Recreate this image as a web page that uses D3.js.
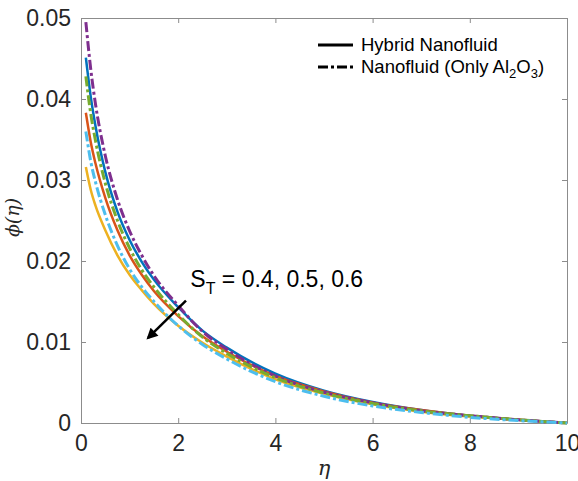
<!DOCTYPE html>
<html>
<head>
<meta charset="utf-8">
<script src="https://cdn.jsdelivr.net/npm/d3@7"></script>
<style>
  body { margin: 0; background: #fff; }
  svg { display: block; }
  .tick text { font-family: "Liberation Sans", Arial, sans-serif; font-size: 23px; fill: #262626; }
</style>
</head>
<body>
<div id="chart"></div>
<script>
// eta grid (x values)
let eta = [0.1, 0.2, 0.3, 0.5, 0.75, 1, 1.25, 1.5, 2, 2.5, 3, 4, 5, 6, 7, 8, 9, 10];

// hybrid nanofluid (solid), S_T = 0.4, 0.5, 0.6
let hybrid04 = [0.0451, 0.0403, 0.0366, 0.0310, 0.0261, 0.0226, 0.0199, 0.0177, 0.0143, 0.0114, 0.0093, 0.0061, 0.0040, 0.0026, 0.0016, 0.0009, 0.0004, 0];
let hybrid05 = [0.0383, 0.0347, 0.0320, 0.0278, 0.0238, 0.0207, 0.0183, 0.0163, 0.0132, 0.0107, 0.0088, 0.0058, 0.0039, 0.0025, 0.0016, 0.0009, 0.0004, 0];
let hybrid06 = [0.0316, 0.0288, 0.0268, 0.0238, 0.0207, 0.0183, 0.0164, 0.0147, 0.0120, 0.0099, 0.0082, 0.0054, 0.0036, 0.0023, 0.0014, 0.0008, 0.0004, 0];

// nanofluid, only Al2O3 (dash-dot), S_T = 0.4, 0.5, 0.6
let nano04 = [0.0495, 0.0437, 0.0393, 0.0330, 0.0276, 0.0237, 0.0207, 0.0182, 0.0145, 0.0113, 0.0091, 0.0058, 0.0038, 0.0025, 0.0015, 0.0009, 0.0004, 0];
let nano05 = [0.0428, 0.0382, 0.0348, 0.0296, 0.0250, 0.0216, 0.0189, 0.0168, 0.0134, 0.0106, 0.0086, 0.0056, 0.0037, 0.0024, 0.0015, 0.0009, 0.0004, 0];
let nano06 = [0.0360, 0.0323, 0.0297, 0.0257, 0.0219, 0.0190, 0.0168, 0.0150, 0.0120, 0.0097, 0.0079, 0.0051, 0.0033, 0.0021, 0.0013, 0.0007, 0.0003, 0];

let xTicks = [0, 2, 4, 6, 8, 10];
let yTicks = [0, 0.01, 0.02, 0.03, 0.04, 0.05];

let series = [
    {values: hybrid04, color: "#0072BD", dash: null},
    {values: hybrid05, color: "#D95319", dash: null},
    {values: hybrid06, color: "#EDB120", dash: null},
    {values: nano04, color: "#7E2F8E", dash: "10,3,3,3"},
    {values: nano05, color: "#77AC30", dash: "10,3,3,3"},
    {values: nano06, color: "#4DBEEE", dash: "10,3,3,3"}
];

let margin = {top: 18, right: 11, bottom: 58, left: 81};
let width = 578 - margin.left - margin.right;
let height = 481 - margin.top - margin.bottom;

let svg = d3.select('#chart')
    .append('svg')
    .attr("width", 578)
    .attr("height", 481)
    .append('g')
    .attr("transform", "translate(" + margin.left + "," + margin.top + ")");

let xScale = d3.scaleLinear().domain([0, 10]).range([0, width]);
let yScale = d3.scaleLinear().domain([0, 0.05]).range([height, 0]);

let axisColor = "#8c8c8c";

function styleAxis(g) {
    g.select('.domain').attr('stroke', axisColor).attr('stroke-width', 1);
    g.selectAll('.tick line').attr('stroke', axisColor);
}

// bottom / left with labels, ticks pointing inward
svg.append('g')
    .attr("transform", "translate(0," + height + ")")
    .call(d3.axisBottom(xScale).tickValues(xTicks).tickSizeInner(-5).tickSizeOuter(0).tickPadding(12).tickFormat(d3.format("d")))
    .call(styleAxis);

svg.append('g')
    .call(d3.axisLeft(yScale).tickValues(yTicks).tickSizeInner(-5).tickSizeOuter(0).tickPadding(10)
        .tickFormat(function (d) { return d === 0 ? "0" : d3.format(".2f")(d); }))
    .call(styleAxis);

// top / right box with ticks
svg.append('g')
    .call(d3.axisTop(xScale).tickValues(xTicks).tickSizeInner(-5).tickSizeOuter(0).tickFormat(""))
    .call(styleAxis);

svg.append('g')
    .attr("transform", "translate(" + width + ",0)")
    .call(d3.axisRight(yScale).tickValues(yTicks).tickSizeInner(-5).tickSizeOuter(0).tickFormat(""))
    .call(styleAxis);

let line = d3.line()
    .x(function (d, i) { return xScale(eta[i]); })
    .y(function (d) { return yScale(d); })
    .curve(d3.curveMonotoneX);

series.forEach(function (s) {
    svg.append('path')
        .datum(s.values)
        .attr('fill', 'none')
        .attr('stroke', s.color)
        .attr('stroke-width', s.dash ? 3 : 2.5)
        .attr('stroke-dasharray', s.dash)
        .attr('d', line);
});

// axis labels
svg.append('text')
    .attr('x', width / 2)
    .attr('y', height + 52)
    .attr('text-anchor', 'middle')
    .style('font-family', '"DejaVu Serif", serif')
    .style('font-style', 'italic')
    .style('font-size', '21px')
    .attr('fill', '#262626')
    .text("η");

svg.append('text')
    .attr('transform', "translate(-62," + (height / 2 - 3) + ") rotate(-90)")
    .attr('text-anchor', 'middle')
    .style('font-family', '"DejaVu Serif", serif')
    .style('font-style', 'italic')
    .style('font-size', '19px')
    .attr('fill', '#262626')
    .text("ϕ(η)");

// legend
let legend = svg.append('g').attr("transform", "translate(237,27)");
let legendItems = [
    {dash: null, label: "Hybrid Nanofluid"},
    {dash: "10,3,3,3", label: "Nanofluid (Only Al"}
];
legendItems.forEach(function (d, i) {
    let row = legend.append('g').attr("transform", "translate(0," + (i * 22) + ")");
    row.append('line')
        .attr('x1', 0).attr('x2', 35)
        .attr('stroke', '#000')
        .attr('stroke-width', 3)
        .attr('stroke-dasharray', d.dash);
    let t = row.append('text')
        .attr('x', 43)
        .attr('y', 6)
        .style('font-family', '"Liberation Sans", Arial, sans-serif')
        .style('font-size', '18.5px')
        .attr('fill', '#000')
        .text(d.label);
    if (i === 1) {
        t.append('tspan').attr('dy', 5).style('font-size', '13px').text("2");
        t.append('tspan').attr('dy', -5).text("O");
        t.append('tspan').attr('dy', 5).style('font-size', '13px').text("3");
        t.append('tspan').attr('dy', -5).text(")");
    }
});

// annotation
let note = svg.append('text')
    .attr('x', xScale(2.25))
    .attr('y', yScale(0.0168))
    .style('font-family', '"Liberation Sans", Arial, sans-serif')
    .style('font-size', '23px')
    .attr('fill', '#000')
    .text("S");
note.append('tspan').attr('dy', 7).style('font-size', '16px').text("T");
note.append('tspan').attr('dy', -7).text(" = 0.4, 0.5, 0.6");

svg.append('defs').append('marker')
    .attr('id', 'head')
    .attr('viewBox', '0 0 10 10')
    .attr('refX', 8).attr('refY', 5)
    .attr('markerWidth', 5).attr('markerHeight', 4.5)
    .attr('orient', 'auto')
    .append('path')
    .attr('d', 'M0,0 L10,5 L0,10 z')
    .attr('fill', '#000');

svg.append('line')
    .attr('x1', xScale(2.16)).attr('y1', yScale(0.0151))
    .attr('x2', xScale(1.38)).attr('y2', yScale(0.0105))
    .attr('stroke', '#000')
    .attr('stroke-width', 2.5)
    .attr('marker-end', 'url(#head)');
</script>
</body>
</html>
